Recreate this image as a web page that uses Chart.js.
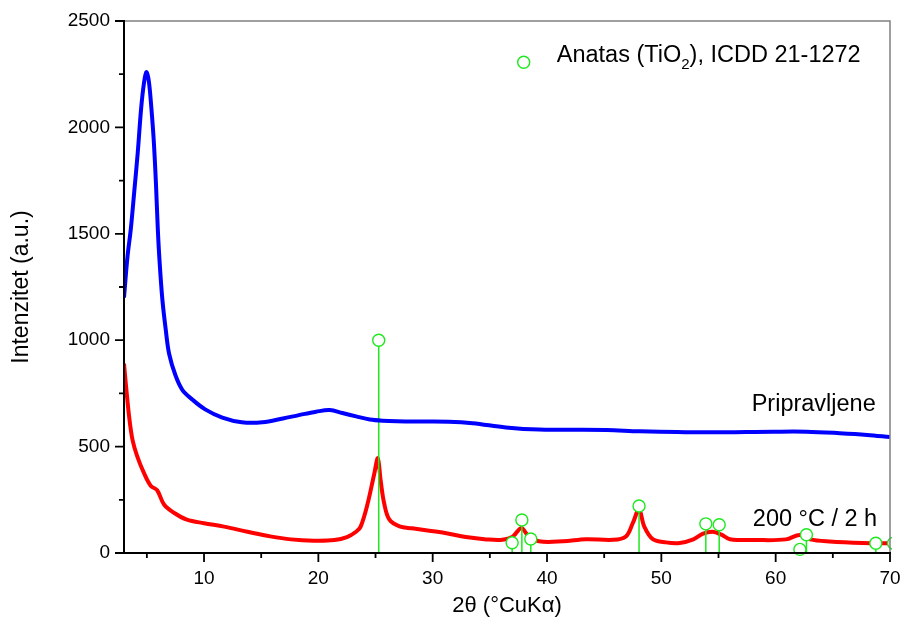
<!DOCTYPE html>
<html>
<head>
<meta charset="utf-8">
<script src="https://cdn.jsdelivr.net/npm/chart.js@4.4.1/dist/chart.umd.min.js"></script>
<style>
  body { margin: 0; background: #fff; }
</style>
</head>
<body>
<canvas id="xrdGraph" width="903" height="629"></canvas>
<script>
const FONT = "'Liberation Sans', Arial, sans-serif";

// Pripravljene (plava krivulja)
const blueX = [3.0, 3.3, 3.6, 3.9, 4.2, 4.5, 4.75, 4.95, 5.15, 5.35, 5.6, 5.8, 5.95, 6.1, 6.35, 6.65, 6.95, 7.5, 8.1, 9.0,
  10.1, 11.6, 13.3, 15.1, 16.9, 18.3, 19.8, 21.0, 22.1, 23.3, 24.5, 25.6, 28.5, 31.4, 33.5, 36.4, 39.3, 45.2, 48.1,
  53.9, 59.8, 62.7, 65.6, 68.0, 70.0];
const blueY = [1200, 1390, 1525, 1700, 1880, 2090, 2210, 2260, 2225, 2120, 1940, 1730, 1530, 1380, 1195, 1050, 935, 835, 767, 720,
  675, 636, 614, 614, 632, 648, 664, 672, 658, 642, 627, 622, 618, 617, 610, 590, 580, 578, 572,
  567, 570, 570, 563, 555, 545];

// 200 °C / 2 h (crvena krivulja)
const redX = [3.0, 3.15, 3.45, 3.75, 4.15, 4.75, 5.35, 5.9, 6.5, 7.4, 8.5, 10.0, 11.75, 13.8, 15.8, 17.6, 19.6, 21.4, 22.5, 23.3,
  23.7, 24.3, 24.9, 25.2, 25.45, 25.75, 26.2, 27.1, 28.2, 29.7, 31.2, 32.9, 34.7, 36.1, 37.0, 37.75, 38.3, 39.3, 41.4,
  43.4, 45.8, 46.9, 47.5, 48.05, 48.5, 49.25, 50.4, 51.6, 52.8, 53.6, 54.5, 55.25, 56.0, 58.3, 60.9, 62.1, 63.0, 64.7,
  67.6, 70.0];
const redY = [890, 800, 640, 530, 455, 375, 315, 295, 228, 188, 157, 140, 124, 100, 78, 64, 58, 61, 75, 100,
  124, 230, 375, 445, 340, 235, 158, 125, 116, 105, 93, 75, 64, 62, 77, 118, 85, 55, 55,
  65, 62, 78, 140, 205, 125, 65, 50, 47, 64, 90, 100, 86, 65, 61, 64, 85, 64, 54,
  47, 46];

// Anatas (TiO2), ICDD 21-1272
const refX = [25.28, 36.95, 37.80, 38.58, 48.05, 53.89, 55.06, 62.12, 62.69, 68.76, 70.31];
const refI = [1000, 48, 155, 66, 221, 137, 133, 17, 86, 46, 46];

const xTicks = [10, 20, 30, 40, 50, 60, 70];
const xMinor = [5, 15, 25, 35, 45, 55, 65];
const yTicks = [0, 500, 1000, 1500, 2000, 2500];
const yMinor = [250, 750, 1250, 1750, 2250];

const GREEN = '#1ee81e';

function pairs(xs, ys) {
  return xs.map((x, i) => ({ x: x, y: ys[i] }));
}

// vertikalne linije za referentne pikove (prekinute s null)
function sticks() {
  const out = [];
  refX.forEach((x, i) => {
    out.push({ x: x, y: 0 });
    out.push({ x: x, y: refI[i] });
    out.push({ x: x, y: null });
  });
  return out;
}

const framePlugin = {
  id: 'frame',
  afterDraw(chart) {
    const ctx = chart.ctx;
    const a = chart.chartArea;
    const xs = chart.scales.x;
    const ys = chart.scales.y;
    ctx.save();

    // gornji i desni rub
    ctx.strokeStyle = '#808080';
    ctx.lineWidth = 1.5;
    ctx.beginPath();
    ctx.moveTo(a.left, a.top);
    ctx.lineTo(a.right, a.top);
    ctx.lineTo(a.right, a.bottom);
    ctx.stroke();

    // osi
    ctx.strokeStyle = '#000';
    ctx.lineWidth = 2;
    ctx.beginPath();
    ctx.moveTo(a.left, a.top - 1);
    ctx.lineTo(a.left, a.bottom);
    ctx.lineTo(a.right + 1, a.bottom);
    ctx.stroke();

    ctx.lineWidth = 1.8;
    ctx.beginPath();
    xTicks.forEach(v => { const p = xs.getPixelForValue(v); ctx.moveTo(p, a.bottom); ctx.lineTo(p, a.bottom + 9); });
    xMinor.forEach(v => { const p = xs.getPixelForValue(v); ctx.moveTo(p, a.bottom); ctx.lineTo(p, a.bottom + 5); });
    yTicks.forEach(v => { const p = ys.getPixelForValue(v); ctx.moveTo(a.left, p); ctx.lineTo(a.left - 9, p); });
    yMinor.forEach(v => { const p = ys.getPixelForValue(v); ctx.moveTo(a.left, p); ctx.lineTo(a.left - 5, p); });
    ctx.stroke();

    // legenda
    const lx = xs.getPixelForValue(37.96);
    const ly = ys.getPixelForValue(2306);
    ctx.strokeStyle = GREEN;
    ctx.lineWidth = 1.4;
    ctx.beginPath();
    ctx.arc(lx, ly, 6, 0, Math.PI * 2);
    ctx.stroke();

    ctx.fillStyle = '#000';
    ctx.textBaseline = 'alphabetic';
    ctx.textAlign = 'left';
    ctx.font = '23.5px ' + FONT;
    let tx = xs.getPixelForValue(40.85);
    const ty = ly;
    const t1 = 'Anatas (TiO';
    ctx.fillText(t1, tx, ty);
    tx += ctx.measureText(t1).width;
    ctx.font = '15px ' + FONT;
    ctx.fillText('2', tx, ty + 7);
    tx += ctx.measureText('2').width;
    ctx.font = '23.5px ' + FONT;
    ctx.fillText('), ICDD 21-1272', tx, ty);

    // oznake krivulja
    ctx.fillText('Pripravljene', xs.getPixelForValue(57.9), ys.getPixelForValue(669));
    ctx.fillText('200 °C / 2 h', xs.getPixelForValue(58.0), ys.getPixelForValue(127));

    ctx.restore();
  }
};

new Chart(document.getElementById('xrdGraph'), {
  type: 'scatter',
  data: {
    datasets: [
      {
        label: 'Pripravljene',
        data: pairs(blueX, blueY),
        showLine: true,
        borderColor: '#0000ff',
        borderWidth: 4,
        pointRadius: 0,
        tension: 0.35
      },
      {
        label: 'Anatas (TiO2), ICDD 21-1272',
        data: pairs(refX, refI),
        showLine: false,
        pointStyle: 'circle',
        pointRadius: 6,
        pointBorderWidth: 1.4,
        pointBorderColor: GREEN,
        pointBackgroundColor: '#fff',
        clip: { left: 10, top: 10, right: 2, bottom: 10 }
      },
      {
        label: 'sticks',
        data: sticks(),
        showLine: true,
        spanGaps: false,
        borderColor: GREEN,
        borderWidth: 1.5,
        pointRadius: 0
      },
      {
        label: '200 °C / 2 h',
        data: pairs(redX, redY),
        showLine: true,
        borderColor: '#ff0000',
        borderWidth: 4,
        pointRadius: 0,
        tension: 0.35
      }
    ]
  },
  options: {
    responsive: false,
    animation: false,
    layout: { padding: { top: 21, right: 13, left: 0, bottom: 0 } },
    plugins: {
      legend: { display: false },
      tooltip: { enabled: false }
    },
    scales: {
      x: {
        type: 'linear',
        min: 3,
        max: 70,
        afterBuildTicks: s => { s.ticks = xTicks.map(v => ({ value: v })); },
        afterFit: s => { s.height = 76; s.paddingLeft = 0; s.paddingRight = 0; },
        grid: { display: false, drawTicks: false },
        border: { display: false },
        ticks: { color: '#000', font: { family: FONT, size: 19 }, padding: 14, maxRotation: 0 },
        title: {
          display: true,
          text: '2θ (°CuKα)',
          color: '#000',
          font: { family: FONT, size: 22 },
          padding: { top: 0, bottom: 10 }
        }
      },
      y: {
        min: 0,
        max: 2500,
        afterBuildTicks: s => { s.ticks = yTicks.map(v => ({ value: v })); },
        afterFit: s => { s.width = 124; s.paddingTop = 0; s.paddingBottom = 0; },
        grid: { display: false, drawTicks: false },
        border: { display: false },
        ticks: { color: '#000', font: { family: FONT, size: 19 }, padding: 14, callback: v => v },
        title: {
          display: true,
          text: 'Intenzitet (a.u.)',
          color: '#000',
          font: { family: FONT, size: 23 },
          padding: { top: 8, bottom: 0 }
        }
      }
    }
  },
  plugins: [framePlugin]
});
</script>
</body>
</html>
